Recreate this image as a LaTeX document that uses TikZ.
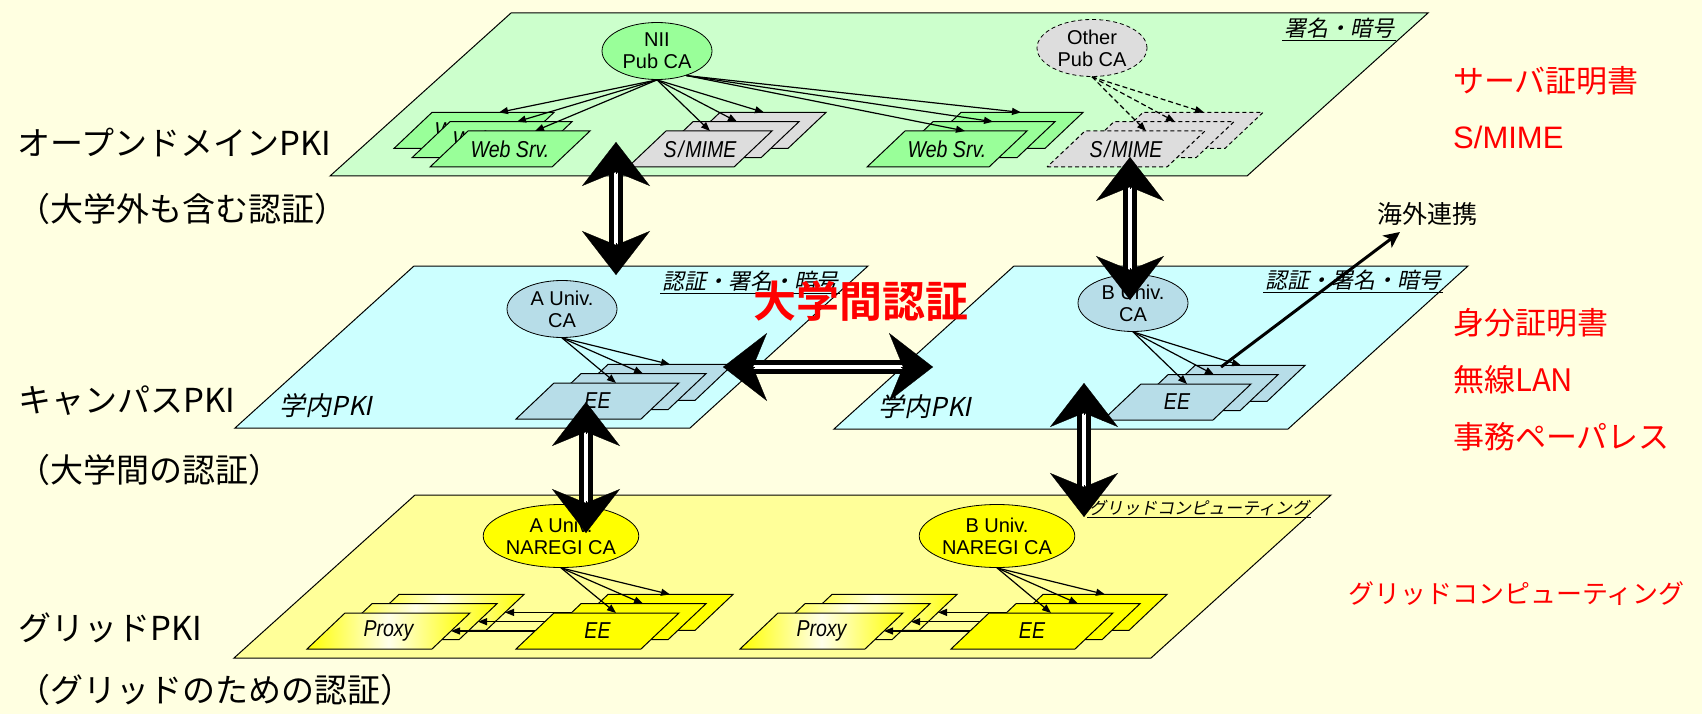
\documentclass[tikz,border=0pt]{standalone}
\usepackage{graphicx}
\usepackage{fontspec}
\setmainfont{Liberation Sans}
\newfontfamily\jp{Noto Sans CJK JP}
\newfontfamily\jpit{Noto Sans CJK JP}[FakeSlant=0.2]
\newfontfamily\jpbf{Noto Sans CJK JP Bold}
\usetikzlibrary{arrows.meta,calc,shapes.geometric}
\definecolor{bg}{HTML}{FFFFE1}
\definecolor{gplane}{HTML}{CCFFCC}
\definecolor{gfill}{HTML}{99FF99}
\definecolor{grayfill}{HTML}{DDDDDD}
\definecolor{bplane}{HTML}{CCFFFF}
\definecolor{bfill}{HTML}{B7DDE8}
\definecolor{yplane}{HTML}{FFFF99}
\definecolor{yfill}{HTML}{FFFF00}
\definecolor{redtxt}{HTML}{FF0000}

% parallelogram box: bottom-left x, y, width, style, text, name, top offset
\newcommand\pgram[7]{%
  \draw[#4] (#1,#2) -- ++(#3,0) -- ++(38,-36) -- ++(-#3,0) -- cycle;
  \node[boxlabel] (#6) at ({#1+#3/2+19},{#2-18}) {\scalebox{0.85}[1]{#5}};
  \coordinate (#6-t) at ({#1+38+#7},{#2-36});
  \coordinate (#6-r) at ({#1+#3+19},{#2-18});
}
\newcommand\frontonly[1]{\ifnum\k=0 #1\fi}

\begin{document}
\begin{tikzpicture}[x=1pt,y=-1pt,
  plane/.style={draw=black, line width=1pt},
  boxlabel/.style={inner sep=0pt, font=\fontsize{23}{23}\selectfont\itshape},
  webbox/.style={draw=black, line width=1pt, fill=gfill},
  smimebox/.style={draw=black, line width=1pt, fill=grayfill},
  dashbox/.style={draw=black, line width=1pt, dash pattern=on 4pt off 3pt, fill=grayfill},
  bluebox/.style={draw=black, line width=1pt, fill=bfill},
  yelbox/.style={draw=black, line width=1pt, fill=yfill},
  proxbox/.style={draw=black, line width=1pt, left color=yfill, right color=yfill, middle color=yellow!8!white},
  ca/.style={ellipse, draw=black, line width=0.8pt, inner sep=0pt, minimum width=110pt,
    minimum height=57pt, align=center, font=\fontsize{20}{22}\selectfont},
  carrow/.style={-{Triangle[length=9pt,width=7pt]}, line width=1.2pt},
  dcarrow/.style={carrow, dash pattern=on 5pt off 3pt},
  bigshaft/.style={draw=black, line width=4.5pt, double=white, double distance=4.5pt,
    shorten <=28pt, shorten >=28pt},
  bigtip/.style={-{Stealth[length=44pt,width=68pt,inset=14pt]}, line width=0.3pt, draw=black},
  lbl/.style={anchor=west, inner sep=0pt, font=\jp\fontsize{33}{33}\selectfont},
  redlbl/.style={anchor=west, inner sep=0pt, text=redtxt, font=\jp\fontsize{31}{31}\selectfont},
  uline/.style={inner sep=1.5pt, font=\jpit\fontsize{22}{22}\selectfont},
  innerlbl/.style={inner sep=0pt, font=\jpit\fontsize{26}{26}\selectfont}
]
\path[fill=bg] (0,0) rectangle (1702,714);

% ---------- planes ----------
\draw[plane, fill=gplane] (511,13) -- (1428,13) -- (1247,176) -- (330,176) -- cycle;
\draw[plane, fill=bplane] (414,266) -- (868,266) -- (690,428) -- (235,428) -- cycle;
\draw[plane, fill=bplane] (1014,266) -- (1468,266) -- (1288,429) -- (834,429) -- cycle;
\draw[plane, fill=yplane] (415,495) -- (1331,495) -- (1151,658) -- (234,658) -- cycle;

% plane labels
\node[uline] (sigG) at (1339,28) {署名・暗号};
\draw (sigG.south west) -- (sigG.south east);
\node[uline] (sigA) at (750,281) {認証・署名・暗号};
\draw (sigA.south west) -- (sigA.south east);
\node[uline] (sigB) at (1353,280) {認証・署名・暗号};
\draw (sigB.south west) -- (sigB.south east);
\node[uline, font=\jpit\fontsize{17}{17}\selectfont] (gridlbl) at (1199,508) {グリッドコンピューティング};
\draw (gridlbl.south west) -- (gridlbl.south east);
\node[innerlbl] (gakunaiA) at (326,406) {学内PKI};
\node[innerlbl] (gakunaiB) at (925,407) {学内PKI};

% ---------- open domain boxes ----------
\foreach \k in {2,1,0}{\pgram{430-18*\k}{167-9.3*\k}{122}{webbox}{Web Srv.}{wl\k}{67}}
\foreach \k in {2,1,0}{\pgram{628+27*\k}{167-9.3*\k}{106}{smimebox}{\frontonly{S\kern2pt/\kern2pt MIME}}{sm\k}{44}}
\foreach \k in {2,1,0}{\pgram{867+28*\k}{167-9.3*\k}{122}{webbox}{\frontonly{Web Srv.}}{wr\k}{60}}
\foreach \k in {2,1,0}{\pgram{1047+29*\k}{167-9.3*\k}{120}{dashbox}{\frontonly{S\kern2pt/\kern2pt MIME}}{ds\k}{61}}

% ---------- campus boxes ----------
\foreach \k in {2,1,0}{\pgram{516+27*\k}{419-9.3*\k}{125}{bluebox}{\frontonly{EE}}{ba\k}{62}}
\foreach \k in {2,1,0}{\pgram{1103+27*\k}{420-9.3*\k}{110}{bluebox}{\frontonly{EE}}{bb\k}{46}}

% ---------- grid boxes ----------
\foreach \k in {0,1,2}{
  \coordinate (yaS\k) at ({516+27*\k+19},{649-9.3*\k-18});
  \coordinate (ybS\k) at ({951+27*\k+19},{649-9.3*\k-18});
}
\foreach \k in {2,1,0}{\pgram{307+27*\k}{649-9.3*\k}{125}{proxbox}{\frontonly{Proxy}}{pa\k}{0}}
\foreach \k in {2,1,0}{\pgram{740+27*\k}{649-9.3*\k}{125}{proxbox}{\frontonly{Proxy}}{pb\k}{0}}
\foreach \k in {0,1,2}{
  \draw[carrow] (yaS\k) -- (pa\k-r);
  \draw[carrow] (ybS\k) -- (pb\k-r);
}
\foreach \k in {2,1,0}{\pgram{516+27*\k}{649-9.3*\k}{125}{yelbox}{\frontonly{EE}}{ya\k}{62}}
\foreach \k in {2,1,0}{\pgram{951+27*\k}{649-9.3*\k}{124}{yelbox}{\frontonly{EE}}{yb\k}{62}}

% ---------- CA ellipses ----------
\node[ca, fill=gfill] (nii) at (657,51) {NII\\Pub CA};
\node[ca, fill=grayfill, dash pattern=on 4pt off 3pt] (other) at (1092,48) {Other\\Pub CA};
\node[ca, fill=bfill] (caA) at (562,309) {A Univ.\\CA};
\node[ca, fill=bfill] (caB) at (1133,303) {B Univ.\\CA};
\node[ca, fill=yfill, minimum width=145pt, minimum height=63pt] (ngA) at (561,536) {A Univ.\\NAREGI CA};
\node[ca, fill=yfill, minimum width=145pt, minimum height=63pt] (ngB) at (997,536) {B Univ.\\NAREGI CA};

% ---------- CA arrows ----------
\foreach \k in {0,1,2}{
  \draw[carrow] (nii.south) -- (wl\k-t);
  \draw[carrow] (nii.south) -- (sm\k-t);
  \draw[carrow] (nii.-40) -- (wr\k-t);
  \draw[dcarrow] (other.south) -- (ds\k-t);
  \draw[carrow] (caA.south) -- (ba\k-t);
  \draw[carrow] (caB.south) -- (bb\k-t);
  \draw[carrow] (ngA.south) -- (ya\k-t);
  \draw[carrow] (ngB.south) -- (yb\k-t);
}

% ---------- overseas link ----------
\node[anchor=west, inner sep=0pt, font=\jp\fontsize{25}{25}\selectfont] (kaigai) at (1377,214) {海外連携};
\coordinate (kgS) at (1221,367);
\coordinate (kgE) at (1400,232);
\draw[-{Stealth[length=16pt,width=15pt,inset=4pt]}, line width=3pt] (kgS) -- (kgE);

% ---------- big double arrows ----------
\coordinate (v1a) at (616,142); \coordinate (v1b) at (616,275);
\coordinate (v2a) at (1130,157); \coordinate (v2b) at (1130,300);
\coordinate (ha) at (723,367);   \coordinate (hb) at (933,367);
\coordinate (v3a) at (586,402);  \coordinate (v3b) at (586,533);
\coordinate (v4a) at (1084,383); \coordinate (v4b) at (1084,517);
\foreach \a/\b in {v1a/v1b, v2a/v2b, ha/hb, v3a/v3b, v4a/v4b}{
  \draw[bigshaft] (\a) -- (\b);
  \draw[bigtip] ($(\a)!32pt!(\b)$) -- (\a);
  \draw[bigtip] ($(\b)!32pt!(\a)$) -- (\b);
}

% ---------- inter-university label ----------
\node[inner sep=0pt, text=redtxt, font=\jpbf\fontsize{43}{43}\selectfont] (daigaku) at (861,301) {大学間認証};

% ---------- left labels ----------
\node[lbl] (l1) at (17,142) {オープンドメインPKI};
\node[lbl] (l2) at (17,209) {（大学外も含む認証）};
\node[lbl] (l3) at (18,401) {キャンパスPKI};
\node[lbl] (l4) at (17,470) {（大学間の認証）};
\node[lbl] (l5) at (18,628) {グリッドPKI};
\node[lbl] (l6) at (17,690) {（グリッドのための認証）};

% ---------- right labels ----------
\node[redlbl] (r1) at (1453,81) {サーバ証明書};
\node[redlbl, font=\fontsize{31}{31}\selectfont] (r2) at (1453,137) {S/MIME};
\node[redlbl] (r3) at (1453,323) {身分証明書};
\node[redlbl] (r4) at (1453,380) {無線LAN};
\node[redlbl] (r5) at (1453,437) {事務ペーパレス};
\node[redlbl, font=\jp\fontsize{26}{26}\selectfont] (r6) at (1348,594) {グリッドコンピューティング};
\end{tikzpicture}
\end{document}
